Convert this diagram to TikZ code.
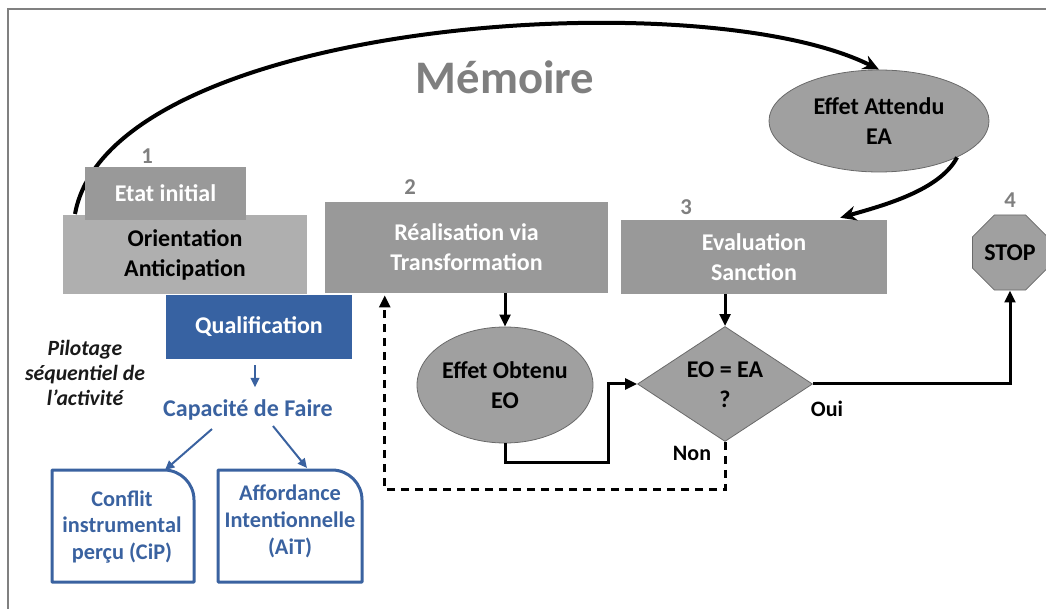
\documentclass[tikz,border=0pt]{standalone}
\usepackage{fontspec}
\setmainfont{Carlito}
\usetikzlibrary{shapes.geometric,arrows.meta,calc,backgrounds}
\definecolor{boxgray}{HTML}{999999}
\definecolor{lightbox}{HTML}{AFAFAF}
\definecolor{ellgray}{HTML}{A0A0A0}
\definecolor{numgray}{HTML}{7F7F7F}
\definecolor{edgegray}{HTML}{6A6A6A}
\definecolor{qblue}{HTML}{3762A2}
\definecolor{tblue}{HTML}{3A62A0}
\definecolor{framegray}{HTML}{808080}
\definecolor{pilot}{HTML}{1A1A1A}
\begin{document}
\begin{tikzpicture}[x=0.75pt,y=-0.75pt,
  txt/.style={font=\bfseries\fontsize{18}{22.5}\selectfont, align=center},
  graybox/.style={rectangle, fill=boxgray, inner sep=0pt, txt, text=white},
  numlab/.style={text=numgray, font=\bfseries\fontsize{17}{20}\selectfont},
  shapebox/.style={fill=ellgray, draw=edgegray, line width=0.6pt, inner sep=0pt, txt, text=black},
  arr/.style={line width=2.25pt, -{Triangle[length=9pt,width=8pt]}},
  dasharr/.style={arr, dash pattern=on 6pt off 4.5pt},
  barr/.style={line width=1.5pt, draw=tblue, -{Triangle[length=7pt,width=6.5pt]}},
  bluetxt/.style={text=tblue, font=\bfseries\fontsize{16.75}{20}\selectfont, align=center},
  blueframe/.style={draw=tblue, line width=2.25pt, line join=round}
]
\useasboundingbox (0,0) rectangle (1046,609);
\draw[framegray, line width=1.2pt] (8,609) -- (8,9) -- (1046,9);

% title
\node[text=numgray, font=\bfseries\fontsize{35}{40}\selectfont] (mem) at (505,77) {Mémoire};

% expected effect
\node[ellipse, shapebox, minimum width=165pt, minimum height=76.5pt] (ea) at (879,121) {Effet Attendu\\EA};

% step 1
\coordinate (arcstart) at (75,214);
\begin{pgfonlayer}{background}
\draw[line width=3pt, -{Stealth[length=12pt,width=11pt]}] (arcstart) .. controls (110,20) and (700,-20) .. (ea.north);
\end{pgfonlayer}
\node[graybox, fill=lightbox, text=black, minimum width=183pt, minimum height=59.25pt] (orient) at (185,254.5) {Orientation\\Anticipation};
\node[graybox, minimum width=120.75pt, minimum height=39.75pt] (etat) at (165.5,193.5) {Etat initial};
\node[numlab] (n1) at (147,156) {1};
\node[graybox, fill=qblue, minimum width=139.5pt, minimum height=48pt] (qual) at (259,327) {Qualification};

% step 2
\node[graybox, minimum width=212.25pt, minimum height=68.25pt] (real) at (466.5,247.5) {Réalisation via\\Transformation};
\node[numlab] (n2) at (410,187) {2};

% step 3
\node[graybox, minimum width=199.5pt, minimum height=55.5pt] (eval) at (754,257) {Evaluation\\Sanction};
\node[numlab] (n3) at (686,207) {3};

% step 4
\node[regular polygon, regular polygon sides=8, shapebox, minimum size=61pt] (stop) at (1010,252.5) {STOP};
\node[numlab] (n4) at (1010,200) {4};

% obtained effect and test
\node[ellipse, shapebox, minimum width=132pt, minimum height=87pt] (eo) at (505,385) {};
\node[txt] (eot) at (505,385) {Effet Obtenu\\EO};
\node[diamond, shapebox, minimum width=131.25pt, minimum height=86.25pt] (dia) at (725,384) {};
\node[txt] (diat) at (725,385) {EO = EA\\?};

% left texts
\node[font=\bfseries\itshape\fontsize{16.3}{19}\selectfont, align=center, text=pilot] (pil) at (85,373) {Pilotage\\séquentiel de\\l'activité};
\node[text=tblue, font=\bfseries\fontsize{18}{20}\selectfont] (cap) at (248,410) {Capacité de Faire};

\draw[blueframe] (52,582) -- (52,470) -- (164,470) .. controls (180.6,470) and (194,483.4) .. (194,500) -- (194,582) -- cycle;
\draw[blueframe] (218,582) -- (218,470) -- (332,470) .. controls (348.6,470) and (362,483.4) .. (362,500) -- (362,582) -- cycle;
\node[bluetxt] (cip) at (122,527) {Conflit\\instrumental\\perçu (CiP)};
\node[bluetxt] (ait) at (290,521.5) {Affordance\\Intentionnelle\\(AiT)};
\coordinate (cipin) at (165,470);
\coordinate (aitin) at (307,468);

% blue connectors
\draw[barr] ($(qual.south)+(-4,6)$) -- ++(0,22);
\draw[barr] ($(cap.south)+(-36,4)$) -- (cipin);
\draw[barr] ($(cap.south)+(25,1)$) -- (aitin);

% black connectors
\draw[arr] (eo.north |- real.south) -- (eo.north);
\draw[arr] (dia.north |- eval.south) -- (dia.north);
\draw[arr] (eo.south) -- ++(0,19) -- ++(103,0) |- (dia.west);
\draw[arr] (dia.east) -| (stop.south);
\draw[dasharr] (dia.south) -- ++(0,48) -| ($(real.south west)+(60,2)$);
\draw[line width=3pt, -{Stealth[length=12pt,width=11pt]}] (ea.south east) .. controls (940,190) and (885,205) .. ($(eval.north east)+(-47,-2)$);

\node[txt, font=\bfseries\fontsize{16.5}{18}\selectfont] (oui) at (827,409) {Oui};
\node[txt, font=\bfseries\fontsize{16.5}{18}\selectfont] (non) at (692,453) {Non};
\end{tikzpicture}
\end{document}
